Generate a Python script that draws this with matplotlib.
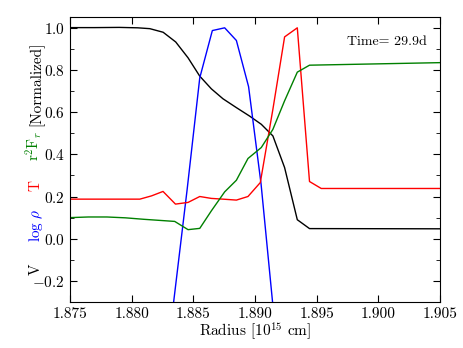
import matplotlib
matplotlib.use("Agg")
import matplotlib.pyplot as plt
from matplotlib.ticker import MultipleLocator

plt.rcParams['font.family'] = 'cmr10'
plt.rcParams['mathtext.fontset'] = 'cm'
plt.rcParams['axes.formatter.use_mathtext'] = True
plt.rcParams['font.size'] = 11

# velocity (normalized)
r_v = [1.875, 1.877, 1.879, 1.8805, 1.88148, 1.88256, 1.88358, 1.88458, 1.88553,
       1.88647, 1.88741, 1.8885, 1.88957, 1.89052, 1.89146, 1.89241, 1.89344,
       1.89443, 1.905]
v = [1.0, 1.0, 1.001, 0.999, 0.995, 0.978, 0.932, 0.857, 0.770,
     0.710, 0.663, 0.621, 0.581, 0.542, 0.487, 0.337, 0.090,
     0.048, 0.047]

# log density (normalized)
r_rho = [1.8830, 1.8845, 1.88553, 1.88655, 1.88755, 1.8885, 1.88949, 1.8905, 1.8915]
rho = [-0.50, 0.23, 0.762, 0.986, 0.999, 0.939, 0.720, 0.26, -0.34]

# temperature (normalized)
r_t = [1.875, 1.88067, 1.88162, 1.88255, 1.88356, 1.88458, 1.88553, 1.88647,
       1.88741, 1.8885, 1.88944, 1.89044, 1.89146, 1.89241, 1.89344, 1.89443,
       1.89538, 1.905]
t = [0.1875, 0.1875, 0.203, 0.224, 0.164, 0.172, 0.200, 0.191,
     0.1875, 0.183, 0.200, 0.266, 0.613, 0.956, 0.999, 0.271,
     0.238, 0.238]

# luminosity r^2 F_r (normalized)
r_f = [1.875, 1.8765, 1.878, 1.8795, 1.881, 1.8825, 1.8835, 1.88458, 1.88553,
       1.88647, 1.88755, 1.8885, 1.88944, 1.89052, 1.89146, 1.8924, 1.89344,
       1.89443, 1.905]
f = [0.100, 0.103, 0.103, 0.099, 0.092, 0.086, 0.082, 0.043, 0.049,
     0.132, 0.222, 0.277, 0.380, 0.432, 0.518, 0.652, 0.789,
     0.822, 0.834]

fig = plt.figure(figsize=(4.63, 3.48), dpi=100)
ax = fig.add_axes([0.151, 0.132, 0.799, 0.819])

ax.plot(r_v, v, color='k', lw=1)
ax.plot(r_rho, rho, color='b', lw=1)
ax.plot(r_t, t, color='r', lw=1)
ax.plot(r_f, f, color='g', lw=1)

ax.set_xlim(1.875, 1.905)
ax.set_ylim(-0.3, 1.05)
ax.set_xticks([1.875, 1.880, 1.885, 1.890, 1.895, 1.900, 1.905])
ax.set_xticklabels(['1.875', '1.880', '1.885', '1.890', '1.895', '1.900', '1.905'])
ax.yaxis.set_major_locator(MultipleLocator(0.2))
ax.yaxis.set_minor_locator(MultipleLocator(0.1))
ax.tick_params(which='both', direction='in', top=True, right=True)
ax.tick_params(which='major', length=5)
ax.tick_params(which='minor', length=3)

ax.set_xlabel(r'Radius [10$^{15}$ cm]', labelpad=0)
ax.text(0.857, 0.912, 'Time= 29.9d', transform=ax.transAxes, ha='center', va='center',
        fontsize=10)

# multi-coloured y label
lx = 36 / 463
fig.text(lx, 1 - 269 / 348, 'V', color='k', rotation=90, ha='center', va='center')
fig.text(lx, 1 - 225 / 348, r'$\log\,\rho$', color='b', rotation=90, ha='center', va='center')
fig.text(lx, 1 - 185 / 348, 'T', color='r', rotation=90, ha='center', va='center')
fig.text(34 / 463, 1 - 146 / 348, r'r$^2$F$_r$', color='g', rotation=90, ha='center', va='center')
fig.text(lx, 1 - 84 / 348, '[Normalized]', color='k', rotation=90, ha='center', va='center')

fig.savefig('out.png', dpi=100)
